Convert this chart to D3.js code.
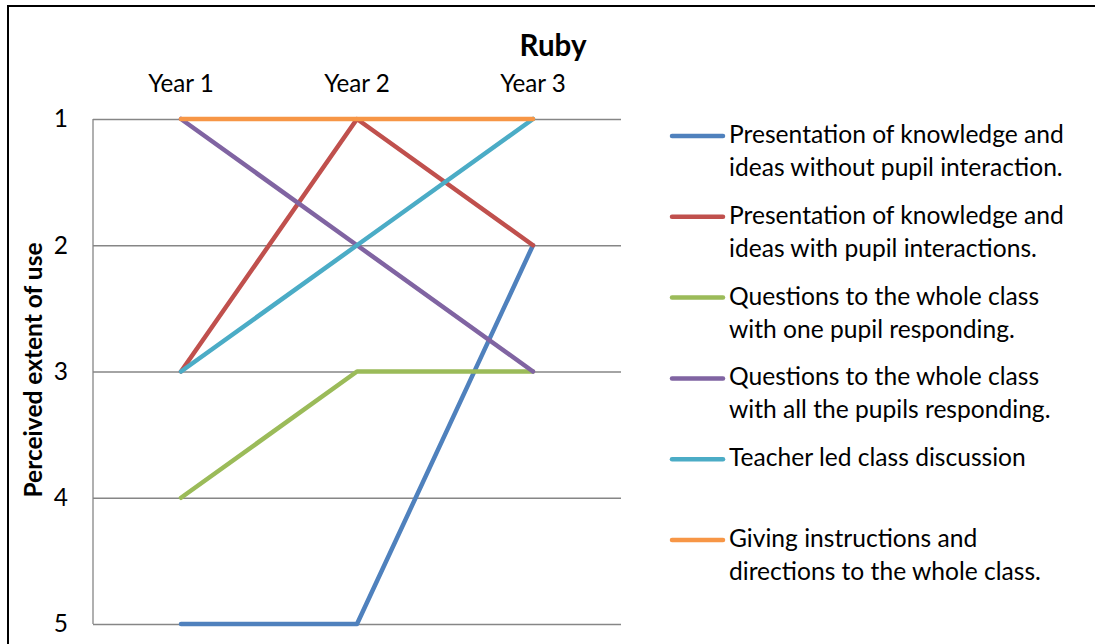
<!DOCTYPE html>
<html>
<head>
<meta charset="utf-8">
<script src="https://cdn.jsdelivr.net/npm/d3@7"></script>
<style>
  body { margin: 0; background: #fff; }
  svg { display: block; font-family: Lato, "Open Sans", sans-serif; }
</style>
</head>
<body>
<div id="chart"></div>
<script>
// chart data
const years = ["Year 1", "Year 2", "Year 3"];
const yTicks = [1, 2, 3, 4, 5];
const seriesLabels = [
    ["Presentation of knowledge and", "ideas without pupil interaction."],
    ["Presentation of knowledge and", "ideas with pupil interactions."],
    ["Questions to the whole class", "with one pupil responding."],
    ["Questions to the whole class", "with all the pupils responding."],
    ["Teacher led class discussion"],
    ["Giving instructions and", "directions to the whole class."]
];
const presentationNoInteraction = [5, 5, 2];
const presentationWithInteraction = [3, 1, 2];
const questionsOnePupil = [4, 3, 3];
const questionsAllPupils = [1, 2, 3];
const teacherLedDiscussion = [3, 2, 1];
const givingInstructions = [1, 1, 1];
const seriesValues = [
    presentationNoInteraction, presentationWithInteraction, questionsOnePupil,
    questionsAllPupils, teacherLedDiscussion, givingInstructions
];
const colours = ["#4F81BD", "#C0504D", "#9BBB59", "#8064A2", "#4BACC6", "#F79646"];

const width = 1095;
const height = 644;
const plot = { left: 93, right: 621, top: 119, bottom: 624 };

const svg = d3.select("#chart")
    .append("svg")
        .attr("width", width)
        .attr("height", height);

// outer chart border (cropped at right/bottom)
svg.append("rect")
    .attr("x", 8)
    .attr("y", 6)
    .attr("width", width + 20)
    .attr("height", height + 20)
    .attr("fill", "none")
    .attr("stroke", "#000")
    .attr("stroke-width", 2);

const xScale = d3.scaleBand()
    .domain(years)
    .range([plot.left, plot.right]);

const yScale = d3.scaleLinear()
    .domain([1, 5])
    .range([plot.top, plot.bottom]);

// gridlines
svg.append("g")
    .attr("transform", `translate(${plot.left}, 0)`)
    .call(d3.axisRight(yScale).tickValues(yTicks).tickSize(plot.right - plot.left).tickFormat(""))
    .call(g => g.select(".domain").remove())
    .selectAll("line")
        .attr("stroke", "#868686")
        .attr("stroke-width", 1.3);

// vertical axis line
svg.append("line")
    .attr("x1", plot.left).attr("x2", plot.left)
    .attr("y1", yScale(1)).attr("y2", yScale(5))
    .attr("stroke", "#868686")
    .attr("stroke-width", 1.3);

// y tick labels
svg.append("g")
    .attr("transform", `translate(${plot.left}, 0)`)
    .call(d3.axisLeft(yScale).tickValues(yTicks).tickSize(0).tickPadding(25).tickFormat(d3.format("d")))
    .call(g => g.select(".domain").remove())
    .selectAll("text")
        .attr("font-family", "Lato, sans-serif")
        .attr("font-size", 24.5)
        .attr("fill", "#000");

// year labels on top
svg.append("g")
    .attr("transform", `translate(0, ${plot.top})`)
    .call(d3.axisTop(xScale).tickSize(0).tickPadding(27))
    .call(g => g.select(".domain").remove())
    .selectAll("text")
        .attr("font-family", "Lato, sans-serif")
        .attr("font-size", 24.2)
        .attr("fill", "#000");

// title
svg.append("text")
    .attr("x", 553)
    .attr("y", 56)
    .attr("text-anchor", "middle")
    .attr("font-size", 29.5)
    .attr("font-weight", "bold")
    .text("Ruby");

// y axis title
svg.append("text")
    .attr("transform", "translate(42, 370) rotate(-90)")
    .attr("text-anchor", "middle")
    .attr("font-size", 24.5)
    .attr("font-weight", "bold")
    .text("Perceived extent of use");

// series lines
const line = d3.line()
    .x((d, i) => xScale(years[i]) + xScale.bandwidth() / 2)
    .y(d => yScale(d));

svg.append("g")
    .selectAll("path")
    .data(seriesValues)
    .enter()
        .append("path")
            .attr("d", d => line(d))
            .attr("fill", "none")
            .attr("stroke", (d, i) => colours[i])
            .attr("stroke-width", 4.5)
            .attr("stroke-linecap", "round")
            .attr("stroke-linejoin", "round");

// legend
const legendTop = 136;
const legendStep = 80.8;
const legend = svg.append("g")
    .selectAll("g")
    .data(seriesLabels)
    .enter()
        .append("g")
            .attr("transform", (d, i) => `translate(670, ${legendTop + i * legendStep})`);

legend.append("line")
    .attr("x1", 2).attr("x2", 53)
    .attr("stroke", (d, i) => colours[i])
    .attr("stroke-width", 4.5)
    .attr("stroke-linecap", "round");

legend.append("text")
    .attr("font-size", 24.6)
    .attr("fill", "#000")
    .selectAll("tspan")
    .data(d => d)
    .enter()
        .append("tspan")
            .attr("x", 59)
            .attr("y", (d, i) => 7 + i * 33)
            .text(d => d);
</script>
</body>
</html>
